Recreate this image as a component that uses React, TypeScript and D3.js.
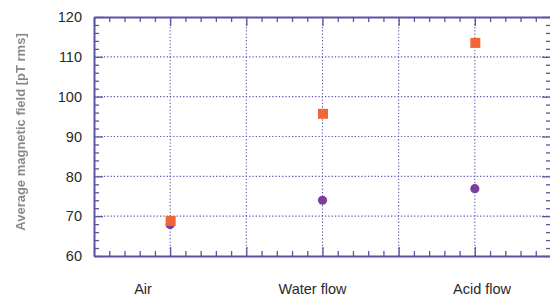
import React, { useEffect, useRef } from 'react';
import * as d3 from 'd3';

// categories and their positions on the x scale
const categories = ['Air', 'Water flow', 'Acid flow'];
const categoryPos = [1, 3, 5];

// series values (pT rms)
const squareValues = [68.8, 95.7, 113.5];
const circleValues = [67.9, 74.0, 76.9];

const yTicks = [60, 70, 80, 90, 100, 110, 120];
const yLabel = 'Average magnetic field [pT rms]';

export default function App() {
  const ref = useRef<SVGSVGElement>(null);

  useEffect(() => {
    const width = 550;
    const height = 297;
    const margin = { top: 17, right: -1, bottom: 41, left: 94 };
    const axisColor = '#5a53a6';
    const gridColor = '#625cae';

    const svg = d3.select(ref.current);
    svg.selectAll('*').remove();

    const defs = svg.append('defs');
    defs.append('filter').attr('id', 'soft')
      .append('feGaussianBlur').attr('stdDeviation', 0.7);

    const x = d3.scaleLinear().domain([0, 6]).range([margin.left, width - margin.right]);
    const y = d3.scaleLinear().domain([60, 120]).range([height - margin.bottom, margin.top]);
    const labelX = d3.scalePoint<string>().domain(categories).range([143, 482]);

    const g = svg.append('g');

    // grid
    g.selectAll('line.vgrid')
      .data(d3.range(1, 6))
      .enter().append('line')
      .attr('x1', d => x(d)).attr('x2', d => x(d))
      .attr('y1', y(120)).attr('y2', y(60))
      .attr('stroke', gridColor).attr('stroke-width', 1.1)
      .attr('stroke-dasharray', '1.3,2');

    g.selectAll('line.hgrid')
      .data(yTicks.slice(1, -1))
      .enter().append('line')
      .attr('x1', x(0)).attr('x2', x(6))
      .attr('y1', d => y(d)).attr('y2', d => y(d))
      .attr('stroke', gridColor).attr('stroke-width', 1.1)
      .attr('stroke-dasharray', '1.3,2');

    // axes with inward ticks
    const xMinor = d3.range(0, 6.001, 0.2);
    const yMinor = d3.range(60, 120.001, 2);
    const isMajorX = (d: number) => Math.abs(d - Math.round(d)) < 1e-6;
    const isMajorY = (d: number) => Math.abs(d / 10 - Math.round(d / 10)) < 1e-6;

    const bottom = g.append('g').attr('transform', `translate(0,${y(60)})`)
      .call(d3.axisTop(x).tickValues(xMinor).tickFormat(() => '').tickSizeOuter(0)
        .tickSizeInner(5));
    bottom.selectAll('.tick line').attr('y2', (d: any) => (isMajorX(d) ? -9 : -5));

    const top = g.append('g').attr('transform', `translate(0,${y(120)})`)
      .call(d3.axisBottom(x).tickValues(xMinor).tickFormat(() => '').tickSizeOuter(0)
        .tickSizeInner(5));
    top.selectAll('.tick line').attr('y2', (d: any) => (isMajorX(d) ? 9 : 5));

    const left = g.append('g').attr('transform', `translate(${x(0)},0)`)
      .call(d3.axisRight(y).tickValues(yMinor).tickFormat(() => '').tickSizeOuter(0)
        .tickSizeInner(5));
    left.selectAll('.tick line').attr('x2', (d: any) => (isMajorY(d) ? 9 : 5));

    const right = g.append('g').attr('transform', `translate(${x(6)},0)`)
      .call(d3.axisLeft(y).tickValues(yMinor).tickFormat(() => '').tickSizeOuter(0)
        .tickSizeInner(5));
    right.selectAll('.tick line').attr('x2', (d: any) => (isMajorY(d) ? -9 : -5));

    [bottom, top, left, right].forEach(a => {
      a.selectAll('path').attr('stroke', axisColor).attr('stroke-width', 2);
      a.selectAll('.tick line').attr('stroke', axisColor).attr('stroke-width', 1.3);
    });

    // y tick labels
    g.selectAll('text.ytick')
      .data(yTicks)
      .enter().append('text')
      .attr('x', 82)
      .attr('y', d => y(d))
      .attr('dy', '0.36em')
      .attr('text-anchor', 'end')
      .attr('font-family', 'Liberation Sans, Arial, sans-serif')
      .attr('font-size', 14.5)
      .attr('fill', '#2a2a2a')
      .text(d => d);

    // x category labels
    g.selectAll('text.xlab')
      .data(categories)
      .enter().append('text')
      .attr('x', d => labelX(d)!)
      .attr('y', 294)
      .attr('text-anchor', 'middle')
      .attr('font-family', 'Liberation Sans, Arial, sans-serif')
      .attr('font-size', 14.5)
      .attr('fill', '#2a2a2a')
      .text(d => d);

    // y axis title (soft, greyed as in the scan)
    g.append('text')
      .attr('transform', `translate(25,${132}) rotate(-90)`)
      .attr('text-anchor', 'middle')
      .attr('font-family', 'Liberation Sans, Arial, sans-serif')
      .attr('font-size', 13)
      .attr('font-weight', 'bold')
      .attr('fill', '#8a8a8a')
      .attr('filter', 'url(#soft)')
      .text(yLabel);

    // circles (purple)
    g.selectAll('circle.pt')
      .data(circleValues)
      .enter().append('circle')
      .attr('cx', (_, i) => x(categoryPos[i]))
      .attr('cy', d => y(d))
      .attr('r', 4.6)
      .attr('fill', '#7b3f98');

    // squares (orange)
    const s = 10;
    g.selectAll('rect.pt')
      .data(squareValues)
      .enter().append('rect')
      .attr('x', (_, i) => x(categoryPos[i]) - s / 2 + 0.5)
      .attr('y', d => y(d) - s / 2)
      .attr('width', s)
      .attr('height', s)
      .attr('fill', '#f26536');
  }, []);

  return (
    <svg
      ref={ref}
      width={550}
      height={297}
      style={{ position: 'absolute', left: 0, top: 0, background: '#fff' }}
    />
  );
}
